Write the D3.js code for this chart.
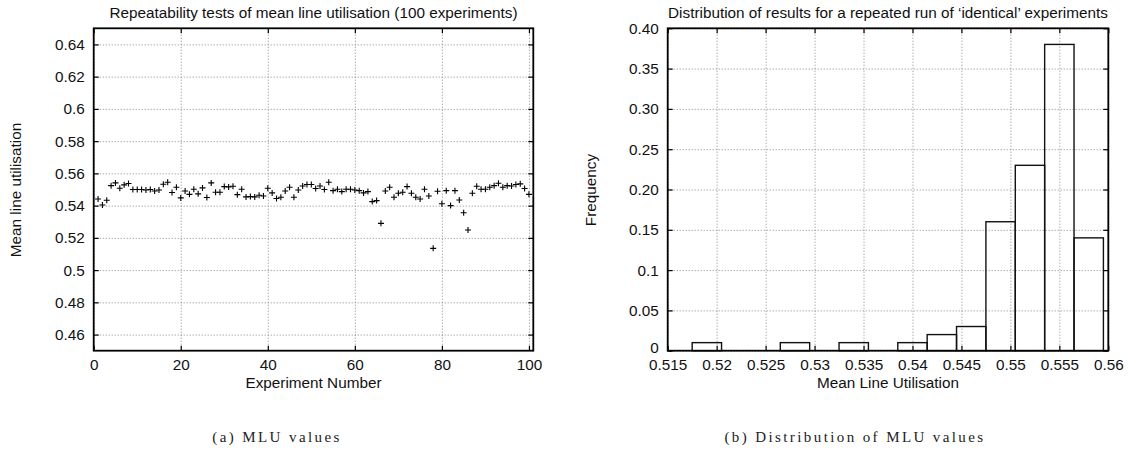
<!DOCTYPE html>
<html>
<head>
<meta charset="utf-8">
<script src="https://cdn.jsdelivr.net/npm/d3@7"></script>
<style>
body { margin:0; background:#fff; }
svg { display:block; font-family:"Liberation Sans", Arial, sans-serif; }
.grid line { stroke:#888; stroke-dasharray:1,2; stroke-width:1; }
.grid path { display:none; }
.tk text { font-size:15.3px; fill:#111; }
.tk path { display:none; }
.tk line { stroke:#000; stroke-width:1.2; }
.mirror path { display:none; }
.mirror line { stroke:#000; stroke-width:1.2; }
.frame { fill:none; stroke:#000; stroke-width:1.8; }
.lbl { font-size:15.3px; fill:#111; }
.cap { font-family:"Liberation Serif", serif; font-size:15px; fill:#222; letter-spacing:2.4px; }
</style>
</head>
<body>
<script>
// mean line utilisation of each experiment (1..100)
var mlu = [0.5441,0.5404,0.5433,0.5524,0.5541,0.5508,0.5529,0.5537,0.5500,0.5500,
           0.5500,0.5497,0.5500,0.5491,0.5497,0.5533,0.5545,0.5481,0.5514,0.5448,
           0.5491,0.5470,0.5502,0.5473,0.5510,0.5450,0.5541,0.5483,0.5483,0.5518,
           0.5516,0.5520,0.5468,0.5502,0.5454,0.5456,0.5454,0.5464,0.5460,0.5508,
           0.5479,0.5444,0.5452,0.5491,0.5514,0.5452,0.5497,0.5522,0.5531,0.5531,
           0.5506,0.5522,0.5500,0.5545,0.5493,0.5502,0.5487,0.5502,0.5502,0.5497,
           0.5493,0.5479,0.5487,0.5425,0.5431,0.5290,0.5491,0.5514,0.5452,0.5477,
           0.5483,0.5518,0.5477,0.5452,0.5441,0.5502,0.5460,0.5135,0.5489,0.5412,
           0.5493,0.5400,0.5493,0.5435,0.5356,0.5249,0.5477,0.5520,0.5502,0.5502,
           0.5514,0.5524,0.5539,0.5514,0.5524,0.5522,0.5531,0.5535,0.5506,0.5470];

// histogram of a repeated run
var binCentres = [0.519,0.528,0.534,0.540,0.543,0.546,0.549,0.552,0.555,0.558];
var binFreq    = [0.01,0.01,0.01,0.01,0.02,0.03,0.16,0.23,0.38,0.14];
var binWidth = 0.003;

var leftXTicks = [0,20,40,60,80,100];
var leftYTicks = [0.46,0.48,0.5,0.52,0.54,0.56,0.58,0.6,0.62,0.64];
var leftYLabels = ["0.46","0.48","0.5","0.52","0.54","0.56","0.58","0.6","0.62","0.64"];
var rightXTicks = [0.515,0.52,0.525,0.53,0.535,0.54,0.545,0.55,0.555,0.56];
var rightXLabels = ["0.515","0.52","0.525","0.53","0.535","0.54","0.545","0.55","0.555","0.56"];
var rightYTicks = [0,0.05,0.1,0.15,0.2,0.25,0.3,0.35,0.4];
var rightYLabels = ["0","0.05","0.1","0.15","0.20","0.25","0.30","0.35","0.40"];

var top_ = 28.3, bottom = 350.7;

var xL = d3.scaleLinear().domain([0,101]).range([93.7,533.3]);
var yL = d3.scaleLinear().domain([0.45,0.65]).range([bottom,top_]);
var xR = d3.scaleLinear().domain([0.515,0.56]).range([667.7,1108.3]);
var yR = d3.scaleLinear().domain([0,0.4]).range([bottom,top_]);

var svg = d3.select("body").append("svg")
    .attr("width",1128)
    .attr("height",456);

var drawFrame = function(x, y, xt, xl, yt, yl){
    var x0 = x.range()[0], x1 = x.range()[1];
    var w = x1 - x0, h = bottom - top_;

    svg.append("g").attr("class","grid")
        .attr("transform","translate(0,"+bottom+")")
        .call(d3.axisBottom(x).tickValues(xt).tickSize(-h).tickFormat(""));
    svg.append("g").attr("class","grid")
        .attr("transform","translate("+x0+",0)")
        .call(d3.axisLeft(y).tickValues(yt).tickSize(-w).tickFormat(""));

    var xa = svg.append("g").attr("class","tk")
        .attr("transform","translate(0,"+bottom+")")
        .call(d3.axisBottom(x).tickValues(xt).tickSize(-5)
            .tickFormat(function(d,i){ return xl ? xl[i] : d; }));
    // baseline of the tick labels a little above the axis title
    xa.selectAll("text").attr("y",19.3).attr("dy",null);

    var ya = svg.append("g").attr("class","tk")
        .attr("transform","translate("+x0+",0)")
        .call(d3.axisLeft(y).tickValues(yt).tickSize(-5).tickPadding(9)
            .tickFormat(function(d,i){ return yl[i]; }));
    // a "0" label at the corner sits a touch higher so it clears the x labels
    ya.selectAll("text").filter(function(d){ return d === 0; }).attr("y",-3);

    svg.append("g").attr("class","mirror")
        .attr("transform","translate(0,"+top_+")")
        .call(d3.axisTop(x).tickValues(xt).tickSize(-5).tickFormat(""));
    svg.append("g").attr("class","mirror")
        .attr("transform","translate("+x1+",0)")
        .call(d3.axisRight(y).tickValues(yt).tickSize(-5).tickFormat(""));
}

var drawBorder = function(x){
    svg.append("rect").attr("class","frame")
        .attr("x",x.range()[0]).attr("y",top_)
        .attr("width",x.range()[1]-x.range()[0])
        .attr("height",bottom-top_);
}

// (a) scatter of MLU values
drawFrame(xL, yL, leftXTicks, null, leftYTicks, leftYLabels);

svg.append("g").selectAll("path").data(mlu).enter().append("path")
    .attr("d",function(d,i){
        var cx = xL(i+1), cy = yL(d), s = 3;
        return "M"+(cx-s)+","+cy+"H"+(cx+s)+"M"+cx+","+(cy-s)+"V"+(cy+s);
    })
    .attr("stroke","#000").attr("stroke-width",1.1);

drawBorder(xL);

// (b) histogram
drawFrame(xR, yR, rightXTicks, rightXLabels, rightYTicks, rightYLabels);

svg.append("g").selectAll("rect").data(binFreq).enter().append("rect")
    .attr("x",function(d,i){ return xR(binCentres[i]-binWidth/2); })
    .attr("y",function(d){ return yR(d); })
    .attr("width",function(d,i){ return xR(binCentres[i]+binWidth/2)-xR(binCentres[i]-binWidth/2); })
    .attr("height",function(d){ return yR(0)-yR(d); })
    .attr("fill","none").attr("stroke","#111").attr("stroke-width",1.4);

drawBorder(xR);

// titles and labels
var texts = [
    {x:313.5, y:18, t:"Repeatability tests of mean line utilisation (100 experiments)"},
    {x:313.5, y:388, t:"Experiment Number"},
    {x:888, y:18, t:"Distribution of results for a repeated run of \u2018identical\u2019 experiments"},
    {x:888, y:388, t:"Mean Line Utilisation"}
];
svg.selectAll(".ttl").data(texts).enter().append("text")
    .attr("class","lbl").attr("text-anchor","middle")
    .attr("x",function(d){ return d.x; }).attr("y",function(d){ return d.y; })
    .text(function(d){ return d.t; });

svg.append("text").attr("class","lbl").attr("text-anchor","middle")
    .attr("transform","translate(21,190) rotate(-90)")
    .text("Mean line utilisation");
svg.append("text").attr("class","lbl").attr("text-anchor","middle")
    .attr("transform","translate(596,190) rotate(-90)")
    .text("Frequency");

svg.append("text").attr("class","cap").attr("text-anchor","middle")
    .attr("x",277).attr("y",442).text("(a) MLU values");
svg.append("text").attr("class","cap").attr("text-anchor","middle")
    .attr("x",855).attr("y",442).text("(b) Distribution of MLU values");
</script>
</body>
</html>
